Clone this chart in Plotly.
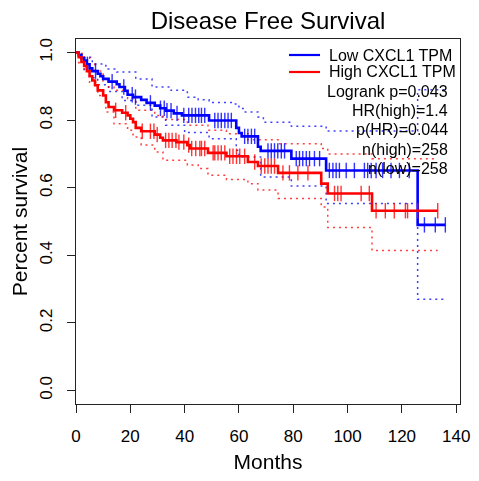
import numpy as np
import plotly.graph_objects as go

# ---------------- data ----------------
low_times = [0, 1, 2, 3, 4, 5, 6, 8, 9, 10, 12, 15, 16, 18, 19, 21, 24, 26, 29, 31, 33, 36, 39,
             49, 59, 60, 61, 67, 68, 79.3, 92.1, 125.8]
low_surv = [1.0, 0.992, 0.984, 0.976, 0.965, 0.953, 0.945, 0.937, 0.930, 0.922, 0.914, 0.906,
            0.898, 0.887, 0.875, 0.868, 0.860, 0.851, 0.843, 0.835, 0.828, 0.820, 0.814,
            0.799, 0.777, 0.762, 0.752, 0.721, 0.709, 0.686, 0.651, 0.490]
low_censor = [4.2, 7.2, 13.3, 17.6, 20.7, 21.9, 27.4, 31.1, 32.5, 33.5, 35.0, 37.2, 39.7, 41.5,
              42.7, 44.0, 45.2, 46.2, 47.4, 51.1, 52.3, 53.5, 54.8, 56.0, 57.2, 62.1, 63.3, 64.6,
              65.8, 70.7, 71.9, 73.1, 74.3, 75.6, 76.8, 81.1, 82.3, 83.5, 84.8, 86.0, 87.8, 89.7,
              93.3, 94.6, 95.8, 97.0, 99.5, 102.5, 106.2, 107.4, 108.7, 110.5, 112.9, 116.0,
              119.1, 122.7, 128.3, 132.3, 136.0]
low_ci_up_t = [0, 2, 6, 11, 15, 22, 28, 35, 41, 45, 49, 58, 60, 62, 67, 69, 79.3, 92.1, 125.8]
low_ci_up = [1.0, 0.986, 0.966, 0.951, 0.942, 0.922, 0.898, 0.888, 0.868, 0.860, 0.852, 0.848,
             0.834, 0.824, 0.809, 0.794, 0.782, 0.768, 0.890]
low_ci_lo_t = [0, 2, 3, 5, 8, 12, 17, 22, 28, 33, 40, 49, 59, 60, 68, 79.3, 92.1, 125.8]
low_ci_lo = [1.0, 0.976, 0.950, 0.925, 0.905, 0.885, 0.858, 0.844, 0.809, 0.785, 0.763, 0.745,
             0.711, 0.691, 0.632, 0.605, 0.553, 0.270]

high_times = [0, 1, 2, 3, 4, 5, 6, 7, 8, 10, 11, 12, 14, 17, 19, 20, 21, 22, 24, 29, 31, 32, 37,
              41, 42, 48.6, 55.4, 63.3, 67.0, 74.4, 90.3, 92.7, 109.0]
high_surv = [1.0, 0.986, 0.972, 0.960, 0.945, 0.930, 0.917, 0.903, 0.888, 0.873, 0.853, 0.839,
             0.829, 0.822, 0.814, 0.804, 0.794, 0.777, 0.767, 0.757, 0.748, 0.740, 0.735, 0.726,
             0.716, 0.703, 0.693, 0.676, 0.664, 0.644, 0.612, 0.583, 0.532]
high_censor = [14.6, 18.3, 24.4, 27.4, 28.7, 29.9, 33.0, 34.2, 35.4, 36.8, 37.9, 39.7, 41.5,
               42.6, 44.1, 45.6, 46.2, 47.4, 50.5, 51.1, 52.3, 53.5, 54.8, 56.6, 57.8, 59.1,
               60.3, 62.1, 65.8, 68.2, 69.5, 70.7, 71.9, 73.1, 76.2, 78.6, 81.7, 85.4, 95.2,
               96.4, 97.6, 105.0, 108.0, 110.5, 113.9, 117.2, 121.3, 122.1, 125.8, 133.2]
high_ci_up_t = [0, 1, 3, 5, 7, 10, 12, 14, 19, 22, 29, 32, 41, 48.6, 55.4, 63.3, 74.4, 90.3,
                92.7, 109.0]
high_ci_up = [1.0, 0.997, 0.985, 0.965, 0.945, 0.915, 0.898, 0.888, 0.863, 0.829, 0.814, 0.802,
              0.785, 0.770, 0.760, 0.742, 0.730, 0.716, 0.700, 0.686]
high_ci_lo_t = [0, 1, 3, 5, 8, 11, 14, 19, 21, 24, 29, 32, 41, 45, 48.6, 55.4, 63.3, 67.0, 74.4,
                90.3, 92.7, 109.0]
high_ci_lo = [1.0, 0.970, 0.951, 0.912, 0.873, 0.824, 0.789, 0.770, 0.750, 0.726, 0.706, 0.681,
              0.667, 0.657, 0.637, 0.624, 0.612, 0.593, 0.568, 0.543, 0.482, 0.414]

x_ticks = [0, 20, 40, 60, 80, 100, 120, 140]
y_ticks = [0.0, 0.2, 0.4, 0.6, 0.8, 1.0]
y_ticktext = ["0.0", "0.2", "0.4", "0.6", "0.8", "1.0"]
legend_names = ["Low CXCL1 TPM", "High CXCL1 TPM"]
stats_lines = ["Logrank p=0.043", "HR(high)=1.4", "p(HR)=0.044", "n(high)=258", "n(low)=258"]

FONT = "Liberation Sans, Arial, Helvetica, sans-serif"

# The page body has an 8px margin, so the figure is drawn 8px smaller and
# positions below are given in window pixels, then shifted by that offset.
OFF = 8
W, H = 479 - OFF, 481 - OFF
ML, MT = 76 - OFF, 39 - OFF
PW, PH = 384, 365
MR, MB = W - ML - PW, H - MT - PH


def px_to_paper(xp, yp):
    return (xp - OFF - ML) / PW, (MT + PH - (yp - OFF)) / PH


def step_at(times, vals, t):
    i = int(np.searchsorted(np.asarray(times), t, side="right")) - 1
    return vals[i]


def extend(times, vals, end):
    return list(times) + [end], list(vals) + [vals[-1]]


fig = go.Figure()

groups = [
    (legend_names[0], "#0000FF", low_times, low_surv, low_censor,
     low_ci_up_t, low_ci_up, low_ci_lo_t, low_ci_lo),
    (legend_names[1], "#FF0000", high_times, high_surv, high_censor,
     high_ci_up_t, high_ci_up, high_ci_lo_t, high_ci_lo),
]

# confidence bands (dotted)
for name, col, t, s, c, ut, uv, lt, lv in groups:
    end = max(c)
    for ct, cv in ((ut, uv), (lt, lv)):
        xx, yy = extend(ct, cv, end)
        fig.add_trace(go.Scatter(x=xx, y=yy, mode="lines", line_shape="hv",
                                 line=dict(color=col, width=1.5, dash="2px,4px"),
                                 opacity=0.75, showlegend=False, hoverinfo="skip"))

# KM curves + censor marks
for name, col, t, s, c, ut, uv, lt, lv in groups:
    end = max(c)
    xx, yy = extend(t, s, end)
    fig.add_trace(go.Scatter(x=xx, y=yy, mode="lines", line_shape="hv",
                             line=dict(color=col, width=2.6), name=name, showlegend=False))
    fig.add_trace(go.Scatter(x=c, y=[step_at(t, s, ci) for ci in c], mode="markers",
                             marker=dict(symbol="line-ns-open", size=11, color=col,
                                         line=dict(color=col, width=1.4)),
                             opacity=0.8, showlegend=False, hoverinfo="skip"))

# legend (R style, no box): line samples + labels
for i, (name, col) in enumerate(((g[0], g[1]) for g in groups)):
    yc = 55 + i * 17
    x0, y0 = px_to_paper(289, yc)
    x1, _ = px_to_paper(320, yc)
    fig.add_shape(type="line", xref="paper", yref="paper", x0=x0, x1=x1, y0=y0, y1=y0,
                  line=dict(color=col, width=2.2))
    tx, ty = px_to_paper(327, yc)
    fig.add_annotation(text=name, xref="paper", yref="paper", x=tx, y=ty,
                       xanchor="left", yanchor="middle", showarrow=False,
                       font=dict(family=FONT, size=16, color="black"))

# stats text, right aligned
for i, txt in enumerate(stats_lines):
    tx, ty = px_to_paper(450, 92 + i * 19)
    fig.add_annotation(text=txt, xref="paper", yref="paper", x=tx, y=ty,
                       xanchor="right", yanchor="middle", showarrow=False,
                       font=dict(family=FONT, size=16, color="black"))

axis_common = dict(showgrid=False, zeroline=False, showline=True, mirror=True,
                   linecolor="#222222", linewidth=1, ticks="outside", ticklen=8,
                   tickcolor="#222222", tickwidth=1, automargin=False,
                   tickfont=dict(family=FONT, size=17, color="black"))

fig.update_layout(
    width=W, height=H,
    margin=dict(l=ML, r=MR, t=MT, b=MB, pad=0),
    paper_bgcolor="white", plot_bgcolor="white",
    font=dict(family=FONT, color="black"),
    showlegend=False,
    title=dict(text="Disease Free Survival", x=(268 - OFF) / W, xanchor="center",
               y=1 - (21 - OFF) / H, yanchor="middle", font=dict(family=FONT, size=24)),
    xaxis=dict(range=[0, 141.4], tickvals=x_ticks, ticklabelstandoff=9,
               title=dict(text="Months", font=dict(family=FONT, size=21), standoff=8),
               **axis_common),
    yaxis=dict(range=[-0.04, 1.04], tickvals=y_ticks, ticktext=y_ticktext, tickangle=-90,
               ticklabelstandoff=8,
               title=dict(text="Percent survival", font=dict(family=FONT, size=21), standoff=4),
               **axis_common),
)

fig.write_html("out.html")
